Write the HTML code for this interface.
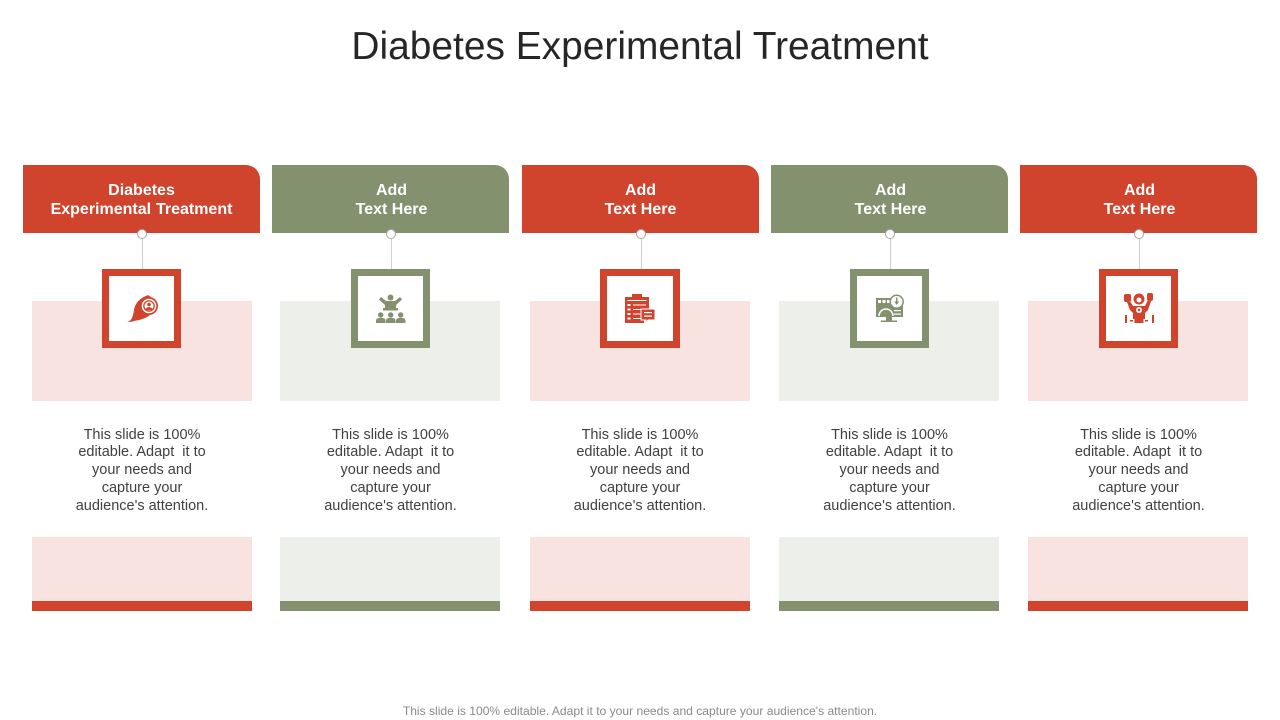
<!DOCTYPE html>
<html lang="en">
<head>
<meta charset="utf-8">
<title>Diabetes Experimental Treatment</title>
<style>
html,body{margin:0;padding:0;background:#fff}
#slide{position:relative;width:1280px;height:720px;overflow:hidden;background:#fff;font-family:"Liberation Sans",sans-serif}
#slide div{position:absolute;box-sizing:border-box}
.title{left:0;top:24px;width:1280px;text-align:center;font-size:38.9px;line-height:46px;color:#262626;white-space:nowrap}
.head{top:165px;width:237px;height:68px;border-top-right-radius:14px;color:#fff;font-weight:bold;font-size:16px;line-height:19px;text-align:center;padding-top:16px;white-space:pre}
.head.r{background:#d0432c}
.head.g{background:#84916f}
.conn{top:234px;width:1px;height:36px;background:#cfcfcf}
.dot{top:229px;width:10px;height:10px;border-radius:50%;background:#fff;border:1px solid #a9a9a9}
.pale{width:220px}
.pale.r{background:#f8e3e0}
.pale.g{background:#edefeb}
.band{top:601px;width:220px;height:10px}
.band.r{background:#d0432c}
.band.g{background:#84916f}
.box{top:269px;width:79px;height:79px;background:#fff;border:7px solid}
.box.r{border-color:#d0432c;color:#d0432c}
.box.g{border-color:#84916f;color:#84916f}
.box svg{position:absolute;left:15px;top:15px;width:35px;height:35px;fill:currentColor}
.body{top:425px;width:220px;text-align:center;font-size:14.5px;line-height:17.8px;color:#404040;white-space:pre;padding-top:1.6px}
.foot{left:0;top:704px;width:1280px;text-align:center;font-size:12.08px;line-height:14px;color:#8a8a8a;white-space:nowrap}
</style>
</head>
<body>
<div id="slide">
<div class="title">Diabetes Experimental Treatment</div>

<!-- Column 1 -->
<div class="pale r" style="left:32px;top:301px;height:100px"></div>
<div class="head r" style="left:23px;word-spacing:-2px">Diabetes
Experimental  Treatment</div>
<div class="conn" style="left:142px"></div>
<div class="dot" style="left:137px"></div>
<div class="box r" style="left:102px">
<svg viewBox="0 0 35 35"><path d="M3 31C8 30 9 25 10 19C11 12 16 7 24 4L27 6L20 12C18 18 20 22 26 24C21 28 15 29 10 30C8 31 5 31 3 31Z"/><circle cx="25" cy="15" r="9"/><circle cx="25" cy="15" r="7.300" fill="#fff"/><circle cx="25" cy="15" r="5.800"/><circle cx="25" cy="15" r="4.500" fill="#fff"/><circle cx="25" cy="13.500" r="1.800"/><path d="M21.500 19a3.500 3 0 0 1 7 0z"/></svg>
</div>
<div class="body" style="left:32px">This slide is 100%
editable. Adapt  it to
your needs and
capture your
audience's attention.</div>
<div class="pale r" style="left:32px;top:537px;height:64px"></div>
<div class="band r" style="left:32px"></div>

<!-- Column 2 -->
<div class="pale g" style="left:280px;top:301px;height:100px"></div>
<div class="head g" style="left:272px;padding-left:2px">Add
Text Here</div>
<div class="conn" style="left:391px"></div>
<div class="dot" style="left:386px"></div>
<div class="box g" style="left:351px">
<svg viewBox="0 0 35 35"><circle cx="17.500" cy="6.500" r="3"/><path d="M8 6L13 10H22L27 6L29 8.500L23 14V17H12V14L6 8.500Z"/><rect x="10" y="17" width="15" height="2.500"/><circle cx="7.700" cy="24" r="2.700"/><circle cx="17.700" cy="24" r="2.700"/><circle cx="27.700" cy="24" r="2.700"/><path d="M3 32V30Q3 27 6 27H9.500Q12.500 27 12.500 30V32ZM13 32V30Q13 27 16 27H19.500Q22.500 27 22.500 30V32ZM23 32V30Q23 27 26 27H29.500Q32.500 27 32.500 30V32Z"/></svg>
</div>
<div class="body" style="left:280.5px">This slide is 100%
editable. Adapt  it to
your needs and
capture your
audience's attention.</div>
<div class="pale g" style="left:280px;top:537px;height:64px"></div>
<div class="band g" style="left:280px"></div>

<!-- Column 3 -->
<div class="pale r" style="left:530px;top:301px;height:100px"></div>
<div class="head r" style="left:522px">Add
Text Here</div>
<div class="conn" style="left:641px"></div>
<div class="dot" style="left:636px"></div>
<div class="box r" style="left:600px;width:80px">
<svg viewBox="0 0 35 35"><path d="M3 6H10V3H20V6H27V20H22V32H3Z"/><rect x="5.500" y="9" width="19" height="1" fill="#fff"/><rect x="11" y="13.500" width="13" height="1" fill="#fff"/><rect x="11" y="18" width="9" height="1" fill="#fff"/><rect x="11" y="22.500" width="9" height="1" fill="#fff"/><rect x="11" y="27" width="9" height="1" fill="#fff"/><rect x="5.500" y="13" width="3" height="2" fill="#fff"/><rect x="5.500" y="17.500" width="3" height="2" fill="#fff"/><rect x="5.500" y="22" width="3" height="2" fill="#fff"/><rect x="5.500" y="26.500" width="3" height="2" fill="#fff"/><path d="M19 18H33V29H26L24 32V29H19Z" stroke="#fff" stroke-width="1"/><rect x="22" y="21" width="8" height="1.200" fill="#fff"/><rect x="22" y="24.500" width="8" height="1.200" fill="#fff"/></svg>
</div>
<div class="body" style="left:530px">This slide is 100%
editable. Adapt  it to
your needs and
capture your
audience's attention.</div>
<div class="pale r" style="left:530px;top:537px;height:64px"></div>
<div class="band r" style="left:530px"></div>

<!-- Column 4 -->
<div class="pale g" style="left:779px;top:301px;height:100px"></div>
<div class="head g" style="left:771px;padding-left:2px">Add
Text Here</div>
<div class="conn" style="left:890px"></div>
<div class="dot" style="left:885px"></div>
<div class="box g" style="left:850px">
<svg viewBox="0 0 35 35"><path d="M4 7H22V14H31V26H4Z"/><rect x="6" y="9" width="3" height="3" fill="#fff"/><rect x="10.500" y="9" width="3" height="3" fill="#fff"/><rect x="15" y="9" width="3" height="3" fill="#fff"/><path d="M7 25A7 7 0 0 1 21 25" fill="none" stroke="#fff" stroke-width="1.500"/><rect x="22" y="19" width="7" height="1.200" fill="#fff"/><rect x="22" y="22.500" width="7" height="1.200" fill="#fff"/><circle cx="24.700" cy="10.700" r="6.500" fill="#fff" stroke="currentColor" stroke-width="1.500"/><rect x="24" y="6.500" width="1.500" height="5"/><path d="M22.200 10.500H27.200L24.700 14Z"/><rect x="14" y="26" width="6" height="3.500"/><rect x="9" y="29.500" width="16" height="1.500"/></svg>
</div>
<div class="body" style="left:779.5px">This slide is 100%
editable. Adapt  it to
your needs and
capture your
audience's attention.</div>
<div class="pale g" style="left:779px;top:537px;height:64px"></div>
<div class="band g" style="left:779px"></div>

<!-- Column 5 -->
<div class="pale r" style="left:1028px;top:301px;height:100px"></div>
<div class="head r" style="left:1020px;padding-left:2px">Add
Text Here</div>
<div class="conn" style="left:1139px"></div>
<div class="dot" style="left:1134px"></div>
<div class="box r" style="left:1099px">
<svg viewBox="0 0 35 35"><rect x="3" y="3" width="7" height="8" rx="2"/><rect x="26" y="2" width="6" height="8" rx="2"/><circle cx="18" cy="8" r="5.500"/><circle cx="18" cy="9" r="2.500" fill="#fff"/><path d="M6 11H9.500L12 15H24L26.500 10H30L27 19L24 22V28H12V22L9 19Z"/><circle cx="18" cy="19" r="3" fill="#fff"/><circle cx="18" cy="19" r="1.300"/><rect x="4" y="24" width="2" height="8"/><rect x="9" y="29" width="3" height="1.500"/><rect x="13.500" y="28" width="9" height="4"/><rect x="24" y="29" width="3" height="1.500"/><rect x="31" y="24" width="2" height="8"/></svg>
</div>
<div class="body" style="left:1028.5px">This slide is 100%
editable. Adapt  it to
your needs and
capture your
audience's attention.</div>
<div class="pale r" style="left:1028px;top:537px;height:64px"></div>
<div class="band r" style="left:1028px"></div>

<div class="foot">This slide is 100% editable. Adapt it to your needs and capture your audience's attention.</div>
</div>
</body>
</html>
